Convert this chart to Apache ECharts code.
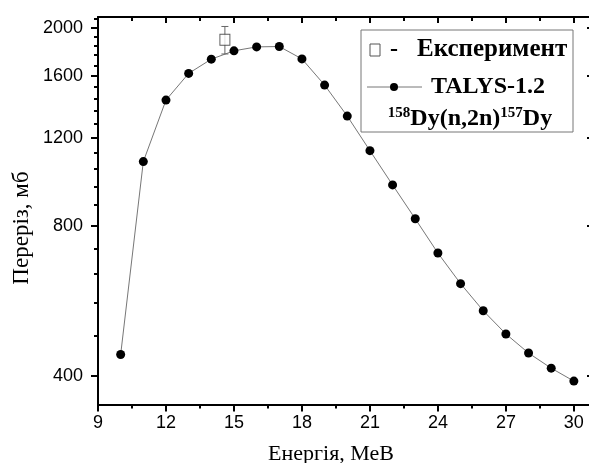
<!DOCTYPE html>
<html>
<head>
<meta charset="utf-8">
<script src="https://cdn.jsdelivr.net/npm/echarts@6/dist/echarts.min.js"></script>
<style>
  html, body { margin: 0; padding: 0; background: #fff; }
  #chart { width: 589px; height: 463px; }
</style>
</head>
<body>
<div id="chart"></div>
<script>
// енергія нейтронів, МеВ
const energy = [10, 11, 12, 13, 14, 15, 16, 17, 18, 19, 20, 21, 22, 23, 24, 25, 26, 27, 28, 29, 30]
// TALYS-1.2, мб
const talys = [441, 1076, 1430, 1618, 1728, 1796, 1829, 1832, 1730, 1533, 1328, 1132, 966, 826, 705, 612, 540, 485, 444, 414, 390]
// експеримент
const expEnergy = [14.6]
const expValue = [1890]
const expError = [120]

const xTicks = [9, 12, 15, 18, 21, 24, 27, 30]
const xMinorTicks = [10.5, 13.5, 16.5, 19.5, 22.5, 25.5, 28.5]
const yTicks = [400, 800, 1200, 1600, 2000]
const yMinorTicks = [480, 560, 640, 720, 880, 960, 1040, 1120, 1280, 1360, 1440, 1520, 1680, 1760, 1840, 1920, 2080]

// вісь y логарифмічна, тому працюємо з lg значень
const lg = v => Math.log10(v)
const yMin = lg(350)
const yMax = lg(2100)

const black = '#000'
const labelFont = { color: black, fontFamily: 'Liberation Sans', fontSize: 18 }

function xAxisOf(position, ticks, len, inside, withLine, withLabel) {
  return {
    type: 'value',
    position: position,
    min: 9,
    max: 30.8,
    splitLine: { show: false },
    axisLine: { show: withLine, onZero: false, lineStyle: { color: black, width: 2 } },
    axisTick: { show: true, inside: inside, length: len, customValues: ticks, lineStyle: { color: black, width: 2 } },
    axisLabel: Object.assign({ show: withLabel, margin: 10, customValues: ticks }, labelFont)
  }
}

function yAxisOf(position, ticks, len, inside, withLine, withLabel) {
  return {
    type: 'value',
    position: position,
    min: yMin,
    max: yMax,
    splitLine: { show: false },
    axisLine: { show: withLine, onZero: false, lineStyle: { color: black, width: 2 } },
    axisTick: { show: true, inside: inside, length: len, customValues: ticks.map(lg), lineStyle: { color: black, width: 2 } },
    axisLabel: Object.assign({
      show: withLabel,
      margin: 15,
      customValues: ticks.map(lg),
      formatter: v => String(Math.round(Math.pow(10, v)))
    }, labelFont)
  }
}

const myChart = echarts.init(document.getElementById('chart'), null, { renderer: 'canvas' })

const options = {
  animation: false,
  backgroundColor: '#fff',
  // права рамка виходить за край картинки
  grid: { left: 98, width: 494, top: 17, height: 387.5, outerBoundsMode: 'none', containLabel: false },
  xAxis: [
    xAxisOf('bottom', xTicks, 7, false, true, true),
    xAxisOf('bottom', xMinorTicks, 4, false, false, false),
    xAxisOf('top', xTicks, 6, true, true, false),
    xAxisOf('top', xMinorTicks, 4, true, false, false)
  ],
  yAxis: [
    yAxisOf('left', yTicks, 7, false, true, true),
    yAxisOf('left', yMinorTicks, 4, false, false, false),
    yAxisOf('right', yTicks, 5, true, true, false),
    yAxisOf('right', yMinorTicks, 3, true, false, false)
  ],
  series: [
    {
      name: 'TALYS-1.2',
      type: 'line',
      data: energy.map((e, i) => [e, lg(talys[i])]),
      symbol: 'circle',
      symbolSize: 9,
      itemStyle: { color: black },
      lineStyle: { color: '#777', width: 1 },
      z: 3
    },
    {
      // похибка експерименту
      name: 'err',
      type: 'custom',
      data: expEnergy.map((e, i) => [e, lg(expValue[i] + expError[i]), lg(expValue[i] - expError[i])]),
      renderItem: (params, api) => {
        const top = api.coord([api.value(0), api.value(1)])
        const bot = api.coord([api.value(0), api.value(2)])
        const st = { stroke: '#666', lineWidth: 1 }
        return {
          type: 'group',
          children: [
            { type: 'line', shape: { x1: top[0], y1: top[1], x2: bot[0], y2: bot[1] }, style: st },
            { type: 'line', shape: { x1: top[0] - 3.5, y1: top[1], x2: top[0] + 3.5, y2: top[1] }, style: st },
            { type: 'line', shape: { x1: bot[0] - 3.5, y1: bot[1], x2: bot[0] + 3.5, y2: bot[1] }, style: st }
          ]
        }
      },
      z: 4
    },
    {
      name: 'Експеримент',
      type: 'scatter',
      data: expEnergy.map((e, i) => [e, lg(expValue[i])]),
      symbol: 'rect',
      symbolSize: [10, 11],
      itemStyle: { color: '#fff', borderColor: '#333', borderWidth: 1 },
      z: 5
    }
  ],
  graphic: [
    // назви осей
    {
      type: 'text',
      x: 22,
      y: 228,
      rotation: Math.PI / 2,
      style: {
        text: 'Переріз, мб',
        font: '23px "Liberation Serif"',
        fill: black,
        align: 'center',
        verticalAlign: 'middle'
      }
    },
    {
      type: 'text',
      x: 331,
      y: 443,
      style: {
        text: 'Енергія, МеВ',
        font: '22px "Liberation Serif"',
        fill: black,
        align: 'center',
        verticalAlign: 'top'
      }
    },
    // легенда
    {
      type: 'rect',
      shape: { x: 361, y: 30, width: 212, height: 102 },
      style: { fill: '#fff', stroke: '#777', lineWidth: 1 },
      z: 10
    },
    {
      type: 'rect',
      shape: { x: 370, y: 44, width: 10, height: 12 },
      style: { fill: '#fff', stroke: '#555', lineWidth: 1 },
      z: 11
    },
    {
      type: 'text',
      x: 394,
      y: 50,
      style: { text: '-', font: 'bold 24px "Liberation Serif"', fill: black, align: 'center', verticalAlign: 'middle' },
      z: 11
    },
    {
      type: 'text',
      x: 417,
      y: 50,
      style: { text: 'Експеримент', font: 'bold 25px "Liberation Serif"', fill: black, align: 'left', verticalAlign: 'middle' },
      z: 11
    },
    {
      type: 'line',
      shape: { x1: 367, y1: 87, x2: 422, y2: 87 },
      style: { stroke: '#777', lineWidth: 1 },
      z: 11
    },
    {
      type: 'circle',
      shape: { cx: 394, cy: 87, r: 4 },
      style: { fill: black },
      z: 12
    },
    {
      type: 'text',
      x: 431,
      y: 87,
      style: { text: 'TALYS-1.2', font: 'bold 24px "Liberation Serif"', fill: black, align: 'left', verticalAlign: 'middle' },
      z: 11
    },
    {
      type: 'text',
      x: 470,
      y: 118,
      style: {
        text: '{s|158}{m|Dy(n,2n)}{s|157}{m|Dy}',
        align: 'center',
        verticalAlign: 'middle',
        rich: {
          m: { font: 'bold 24px "Liberation Serif"', fill: black, verticalAlign: 'bottom' },
          s: { font: 'bold 15px "Liberation Serif"', fill: black, verticalAlign: 'top', padding: [0, 0, 10, 0] }
        }
      },
      z: 11
    }
  ]
}

myChart.setOption(options)
window.addEventListener('resize', () => {
  myChart.resize()
})
</script>
</body>
</html>
